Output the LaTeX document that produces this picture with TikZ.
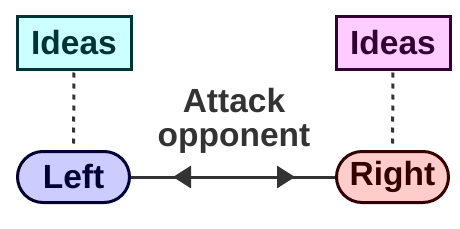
\documentclass[tikz,border=0pt]{standalone}
\usepackage{fontspec}
\setmainfont{Liberation Sans}
\usetikzlibrary{arrows.meta,decorations.markings}
\definecolor{cyanfill}{HTML}{CCFFFF}
\definecolor{cyanline}{HTML}{003333}
\definecolor{pinkfill}{HTML}{FFCCFF}
\definecolor{pinkline}{HTML}{330033}
\definecolor{bluefill}{HTML}{CCCCFF}
\definecolor{blueline}{HTML}{000033}
\definecolor{redfill}{HTML}{FFCCCC}
\definecolor{redline}{HTML}{330000}
\definecolor{graycol}{HTML}{333333}
\begin{document}
\begin{tikzpicture}[x=1pt,y=-1pt,
  txt/.style={font=\fontsize{33.5}{34}\selectfont\bfseries},
  ideabox/.style={txt,draw,line width=3pt,minimum width=114pt,minimum height=53pt,inner sep=0pt},
  pill/.style={txt,draw,line width=3pt,minimum width=112pt,minimum height=51pt,inner sep=0pt,rounded corners=25.5pt},
  dotline/.style={graycol,line width=3pt,dash pattern=on 5pt off 6pt},
]
\useasboundingbox (0,0) rectangle (460,228);
\node[ideabox,fill=cyanfill,draw=cyanline,text=cyanline] (ideasL) at (74,43) {Ideas};
\node[ideabox,fill=pinkfill,draw=pinkline,text=pinkline] (ideasR) at (393,43) {Ideas};
\node[pill,fill=bluefill,draw=blueline,text=blueline] (left) at (73.5,177) {Left};
\node[pill,fill=redfill,draw=redline,text=redline] (right) at (392.5,177) {Right};
\draw[dotline,shorten <=1.5pt,shorten >=4pt] (ideasL.south) -- (left.north);
\draw[dotline,shorten <=1.5pt,shorten >=4pt] (ideasR.south) -- (right.north);
\draw[graycol,line width=3pt,
  postaction={decorate,decoration={markings,
    mark=at position 42pt with {\arrowreversed{Triangle[length=18pt,width=22pt]}},
    mark=at position -40pt with {\arrow{Triangle[length=18pt,width=22pt]}}}}]
  (left.east) -- (right.west);
\node[txt,text=graycol,align=center,inner sep=0pt,anchor=north] (lbl) at (234,88) {Attack\\opponent};
\end{tikzpicture}
\end{document}
